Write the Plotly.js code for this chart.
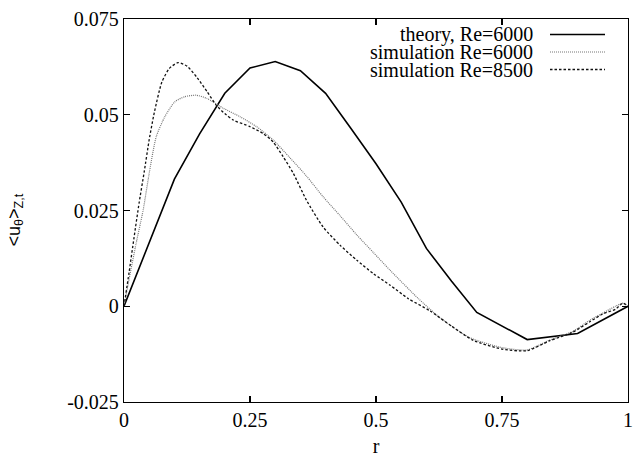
<!DOCTYPE html>
<html>
<head>
<meta charset="utf-8">
<script src="https://cdn.plot.ly/plotly-3.0.1.min.js"></script>
<style>html,body{margin:0;padding:0;background:#fff;}#chart{width:634px;height:460px;}</style>
</head>
<body>
<div id="chart"></div>
<script>
// theory, Re=6000
const rTheory = [0, 0.1, 0.15, 0.2, 0.25, 0.3, 0.35, 0.4, 0.45, 0.5, 0.55, 0.6, 0.65, 0.7, 0.8, 0.9, 1.0];
const uTheory = [0, 0.0332, 0.045, 0.0556, 0.0622, 0.0639, 0.0615, 0.0556, 0.0465, 0.0372, 0.0272, 0.0151, 0.0065, -0.0016, -0.0087, -0.0071, 0];

// simulation Re=6000
const rSim6000 = [0, 0.011, 0.024, 0.038, 0.051, 0.064, 0.081, 0.101, 0.12, 0.143, 0.164, 0.197, 0.23, 0.263, 0.296, 0.329, 0.362, 0.395, 0.429, 0.462, 0.495, 0.528, 0.584, 0.627, 0.686, 0.75, 0.8, 0.845, 0.89, 0.925, 0.95, 0.975, 0.99, 1.0];
const uSim6000 = [0, 0.0077, 0.0164, 0.0251, 0.0355, 0.0443, 0.0495, 0.0534, 0.0547, 0.0551, 0.0543, 0.0517, 0.0495, 0.0469, 0.0434, 0.0388, 0.0340, 0.0286, 0.0236, 0.0186, 0.0140, 0.0094, 0.002, -0.003, -0.0082, -0.0108, -0.0114, -0.0088, -0.0066, -0.0036, -0.0018, 0.0, 0.0008, 0.0];

// simulation Re=8500
const rSim8500 = [0, 0.01, 0.02, 0.03, 0.04, 0.05, 0.06, 0.075, 0.09, 0.107, 0.125, 0.145, 0.165, 0.183, 0.2, 0.217, 0.25, 0.276, 0.296, 0.316, 0.336, 0.362, 0.395, 0.429, 0.462, 0.495, 0.528, 0.564, 0.607, 0.65, 0.693, 0.75, 0.8, 0.845, 0.89, 0.925, 0.95, 0.975, 0.99, 1.0];
const uSim8500 = [0, 0.0088, 0.018, 0.027, 0.035, 0.0435, 0.0505, 0.0585, 0.0621, 0.0636, 0.0627, 0.0597, 0.0560, 0.0525, 0.0503, 0.0486, 0.0469, 0.0451, 0.0429, 0.039, 0.0347, 0.0277, 0.0207, 0.0159, 0.012, 0.0085, 0.0055, 0.002, -0.0012, -0.0052, -0.0089, -0.0112, -0.0116, -0.009, -0.0068, -0.004, -0.002, -0.0008, 0.0008, 0.0];

const xTicks = [0, 0.25, 0.5, 0.75, 1];
const xTickText = ['0', '0.25', '0.5', '0.75', '1'];
const yTicks = [-0.025, 0, 0.025, 0.05, 0.075];
const yTickText = ['-0.025', '0', '0.025', '0.05', '0.075'];

const legendNames = ['theory, Re=6000', 'simulation Re=6000', 'simulation Re=8500'];
const lineStyles = [
  {color: '#000000', width: 1.6, dash: 'solid'},
  {color: '#777777', width: 1.2, dash: '1px,1px'},
  {color: '#111111', width: 1.3, dash: '2.5px,2px'}
];

const serif = 'Liberation Serif';

const traces = [
  {x: rTheory, y: uTheory, name: legendNames[0], mode: 'lines', line: lineStyles[0]},
  {x: rSim6000, y: uSim6000, name: legendNames[1], mode: 'lines', line: Object.assign({shape: 'spline', smoothing: 0.6}, lineStyles[1])},
  {x: rSim8500, y: uSim8500, name: legendNames[2], mode: 'lines', line: Object.assign({shape: 'spline', smoothing: 0.6}, lineStyles[2])}
];

// gnuplot-style key: right-aligned text with the line sample to its right
const annotations = [];
const shapes = [];
legendNames.forEach((name, i) => {
  const yPix = 34.5 + i * 17.5;
  const yPaper = 1 - (yPix - 19) / 383;
  annotations.push({
    text: name, xref: 'paper', yref: 'paper',
    x: (535 - 124) / 504, y: yPaper, xanchor: 'right', yanchor: 'middle',
    showarrow: false, font: {family: serif, size: 20, color: '#000000'}
  });
  shapes.push({
    type: 'line', xref: 'paper', yref: 'paper',
    x0: (550 - 124) / 504, x1: (605 - 124) / 504, y0: yPaper, y1: yPaper,
    line: {color: lineStyles[i].color, width: lineStyles[i].width, dash: lineStyles[i].dash}
  });
});

annotations.push({
  text: '&lt;u<sub>θ</sub>&gt;<sub>Z,t</sub>',
  xref: 'paper', yref: 'paper', x: 0, y: 0.5, xshift: -109, yshift: -10,
  xanchor: 'center', yanchor: 'middle', textangle: -90, showarrow: false,
  font: {family: 'Liberation Sans', size: 18, color: '#000000'}
});

const layout = {
  width: 634, height: 460,
  margin: {l: 124, r: 6, t: 19, b: 58},
  showlegend: false,
  font: {family: serif, size: 20, color: '#000000'},
  xaxis: {
    range: [0, 1], tickvals: xTicks, ticktext: xTickText,
    ticks: 'inside', ticklen: 6, tickwidth: 1.2, tickcolor: '#000000',
    showline: true, linecolor: '#000000', linewidth: 1.2, mirror: 'ticks',
    showgrid: false, zeroline: false,
    tickfont: {family: serif, size: 20, color: '#000000'},
    title: {text: 'r', font: {family: serif, size: 20, color: '#000000'}, standoff: 8}
  },
  yaxis: {
    range: [-0.025, 0.075], tickvals: yTicks, ticktext: yTickText,
    ticks: 'inside', ticklen: 6, tickwidth: 1.2, tickcolor: '#000000',
    showline: true, linecolor: '#000000', linewidth: 1.2, mirror: 'ticks',
    showgrid: false, zeroline: false,
    tickfont: {family: serif, size: 20, color: '#000000'}
  },
  annotations: annotations,
  shapes: shapes
};

Plotly.newPlot('chart', traces, layout, {staticPlot: true, displayModeBar: false});
</script>
</body>
</html>
